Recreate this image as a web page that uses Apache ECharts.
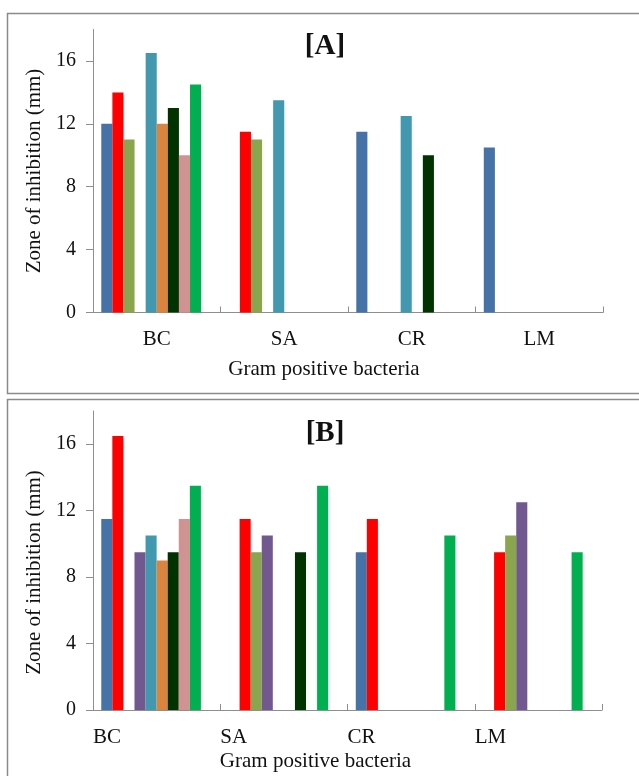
<!DOCTYPE html>
<html>
<head>
<meta charset="utf-8">
<script src="https://cdn.jsdelivr.net/npm/echarts@6/dist/echarts.min.js"></script>
<style>
html,body{margin:0;padding:0;background:#fff;}
#chart{width:639px;height:776px;}
</style>
</head>
<body>
<div id="chart"></div>
<script>
// ---- data ----
var categories = ['BC', 'SA', 'CR', 'LM'];
var yTicks = [0, 4, 8, 12, 16];
var seriesNames = ['Series 1', 'Series 2', 'Series 3', 'Series 4', 'Series 5', 'Series 6', 'Series 7', 'Series 8', 'Series 9', 'Series 10'];
var seriesColors = ['#4572A7', '#FF0000', '#89A54E', '#71588F', '#4198AF', '#DB843D', '#003300', '#D19392', '#00B050', '#999999'];

// Panel [A]
var a1 = [12, null, 11.5, 10.5];
var a2 = [14, 11.5, null, null];
var a3 = [11, 11, null, null];
var a4 = [null, null, null, null];
var a5 = [16.5, 13.5, 12.5, null];
var a6 = [12, null, null, null];
var a7 = [13, null, 10, null];
var a8 = [10, null, null, null];
var a9 = [14.5, null, null, null];
var a10 = [null, null, null, null];

// Panel [B]
var b1 = [11.5, null, 9.5, null];
var b2 = [16.5, 11.5, 11.5, 9.5];
var b3 = [null, 9.5, null, 10.5];
var b4 = [9.5, 10.5, null, 12.5];
var b5 = [10.5, null, null, null];
var b6 = [9, null, null, null];
var b7 = [9.5, 9.5, null, null];
var b8 = [11.5, null, null, null];
var b9 = [13.5, 13.5, 10.5, 9.5];
var b10 = [null, null, null, null];

var dataA = [a1, a2, a3, a4, a5, a6, a7, a8, a9, a10];
var dataB = [b1, b2, b3, b4, b5, b6, b7, b8, b9, b10];

// ---- chart ----
var FONT = 'Liberation Serif';
var AXIS_COLOR = '#8e8e8e';
var chart = echarts.init(document.getElementById('chart'), null, {renderer: 'canvas'});

function yAxisCfg(gridIndex, padding) {
  return {
    type: 'value', gridIndex: gridIndex, min: 0, max: 18, interval: 4,
    name: 'Zone of inhibition (mm)', nameLocation: 'middle', nameGap: 46,
    nameTextStyle: {fontFamily: FONT, fontSize: 21, color: '#111', padding: padding},
    axisLine: {show: true, lineStyle: {color: AXIS_COLOR, width: 1}},
    axisTick: {show: true, inside: false, length: 7, lineStyle: {color: AXIS_COLOR}, customValues: yTicks},
    axisLabel: {fontFamily: FONT, fontSize: 20, color: '#111', margin: 17, customValues: yTicks},
    splitLine: {show: false}
  };
}

var series = [];
function addSeries(data, axisIdx) {
  data.forEach(function (arr, i) {
    series.push({
      type: 'bar', name: seriesNames[i], xAxisIndex: axisIdx, yAxisIndex: axisIdx === 0 ? 0 : 1,
      data: arr, barGap: 0, barCategoryGap: '13%',
      itemStyle: {color: seriesColors[i]},
      emphasis: {disabled: true}
    });
  });
}
addSeries(dataA, 0);
addSeries(dataB, 1);

var option = {
  animation: false,
  backgroundColor: '#fff',
  textStyle: {fontFamily: FONT},
  grid: [
    {left: 93, right: 36, top: 29.5, height: 283},
    {left: 93, right: 37, top: 411, height: 299}
  ],
  xAxis: [
    {
      type: 'category', gridIndex: 0, data: categories,
      name: 'Gram positive bacteria', nameLocation: 'middle', nameGap: 46,
      nameTextStyle: {fontFamily: FONT, fontSize: 21, color: '#111', padding: [0, 48, 0, 0]},
      axisLine: {show: true, lineStyle: {color: AXIS_COLOR}},
      axisTick: {show: true, inside: true, length: 6, lineStyle: {color: AXIS_COLOR}},
      axisLabel: {fontFamily: FONT, fontSize: 21, color: '#111', margin: 16}
    },
    {
      type: 'category', gridIndex: 1, data: categories,
      name: 'Gram positive bacteria', nameLocation: 'middle', nameGap: 41,
      nameTextStyle: {fontFamily: FONT, fontSize: 21, color: '#111', padding: [0, 64, 0, 0]},
      axisLine: {show: true, lineStyle: {color: AXIS_COLOR}},
      axisTick: {show: true, inside: true, length: 6, lineStyle: {color: AXIS_COLOR}},
      axisLabel: {show: false}
    },
    {
      type: 'category', gridIndex: 1, data: categories.concat(['']), boundaryGap: false, position: 'bottom',
      axisLine: {show: false}, axisTick: {show: false}, splitLine: {show: false},
      axisLabel: {fontFamily: FONT, fontSize: 21, color: '#111', margin: 17, align: 'left', interval: 0}
    }
  ],
  yAxis: [yAxisCfg(0, [0, 0, 0, 0]), yAxisCfg(1, [0, 24, 0, 0])],
  graphic: [
    {type: 'rect', shape: {x: 7.5, y: 13.5, width: 660, height: 380}, style: {fill: 'none', stroke: '#8a8a8a', lineWidth: 1.5}, silent: true},
    {type: 'rect', shape: {x: 7.5, y: 399.5, width: 660, height: 400}, style: {fill: 'none', stroke: '#8a8a8a', lineWidth: 1.5}, silent: true},
    {type: 'text', x: 325, y: 47, style: {text: '[A]', fontFamily: FONT, fontSize: 29, fontWeight: 'bold', fill: '#111', textAlign: 'center', textVerticalAlign: 'middle'}},
    {type: 'text', x: 325, y: 434, style: {text: '[B]', fontFamily: FONT, fontSize: 29, fontWeight: 'bold', fill: '#111', textAlign: 'center', textVerticalAlign: 'middle'}}
  ],
  series: series
};
chart.setOption(option);
</script>
</body>
</html>
